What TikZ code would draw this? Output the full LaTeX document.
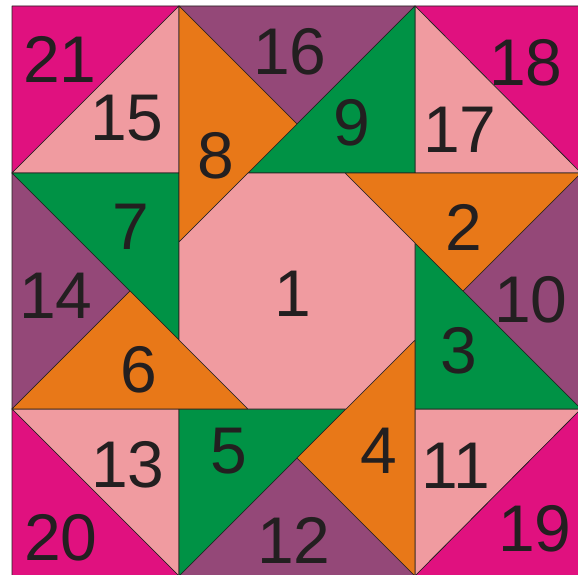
\documentclass[tikz,border=0pt]{standalone}
\usepackage{fontspec}
\setmainfont{Liberation Sans}
\usepackage{tikz}
\definecolor{quiltmag}{RGB}{224,17,127}
\definecolor{quiltpink}{RGB}{240,155,160}
\definecolor{quiltpurple}{RGB}{148,72,120}
\definecolor{quiltorange}{RGB}{232,120,24}
\definecolor{quiltgreen}{RGB}{0,146,69}
\definecolor{quiltink}{RGB}{35,31,32}

\begin{document}
\begin{tikzpicture}[x=1pt,y=-1pt,
    piece/.style={draw=quiltink,line width=0.6pt,line join=round},
    num/.style={text=quiltink,font=\fontsize{66}{66}\selectfont,inner sep=0pt}]
  \useasboundingbox (0,0) rectangle (578,575);
  \clip (0,0) rectangle (578,575);
  % corner squares
  \filldraw[piece,fill=quiltmag] (12,6)--(179,6)--(12,173)--cycle;
  \filldraw[piece,fill=quiltpink] (179,6)--(179,173)--(12,173)--cycle;
  \filldraw[piece,fill=quiltmag] (415,6)--(581,6)--(581,173)--cycle;
  \filldraw[piece,fill=quiltpink] (415,6)--(581,173)--(415,173)--cycle;
  \filldraw[piece,fill=quiltpink] (12,409)--(179,409)--(179,576)--cycle;
  \filldraw[piece,fill=quiltmag] (12,409)--(179,576)--(12,576)--cycle;
  \filldraw[piece,fill=quiltpink] (415,409)--(581,409)--(415,576)--cycle;
  \filldraw[piece,fill=quiltmag] (581,409)--(581,576)--(415,576)--cycle;
  % outer purple triangles
  \filldraw[piece,fill=quiltpurple] (179,6)--(415,6)--(297,124)--cycle;
  \filldraw[piece,fill=quiltpurple] (581,173)--(581,409)--(463,291)--cycle;
  \filldraw[piece,fill=quiltpurple] (179,576)--(415,576)--(297,458)--cycle;
  \filldraw[piece,fill=quiltpurple] (12,173)--(12,409)--(130,291)--cycle;
  % green triangles
  \filldraw[piece,fill=quiltgreen] (415,6)--(415,173)--(248,173)--cycle;
  \filldraw[piece,fill=quiltgreen] (415,243)--(415,409)--(581,409)--cycle;
  \filldraw[piece,fill=quiltgreen] (179,409)--(346,409)--(179,576)--cycle;
  \filldraw[piece,fill=quiltgreen] (12,173)--(179,173)--(179,340)--cycle;
  % orange triangles
  \filldraw[piece,fill=quiltorange] (179,6)--(297,124)--(179,242)--cycle;
  \filldraw[piece,fill=quiltorange] (345,173)--(581,173)--(463,291)--cycle;
  \filldraw[piece,fill=quiltorange] (415,340)--(415,576)--(297,458)--cycle;
  \filldraw[piece,fill=quiltorange] (12,409)--(130,291)--(248,409)--cycle;
  % centre octagon
  \filldraw[piece,fill=quiltpink] (248,173)--(345,173)--(415,243)--(415,340)
    --(346,409)--(248,409)--(179,340)--(179,242)--cycle;
  % piece numbers
  \foreach \n/\x/\y in {1/293/294,2/464/227,3/459/351,4/379/451,5/229/451,
      6/139/370,7/131/227,8/216/156,9/352/123,10/531/300,11/456/466,
      12/294/540,13/128/465,14/56/296,15/127/118,16/290/52,17/460/130,
      18/526/63,19/535/529,20/61/538,21/60/59}
    \node[num] (p\n) at (\x,\y) {\n};
\end{tikzpicture}
\end{document}
